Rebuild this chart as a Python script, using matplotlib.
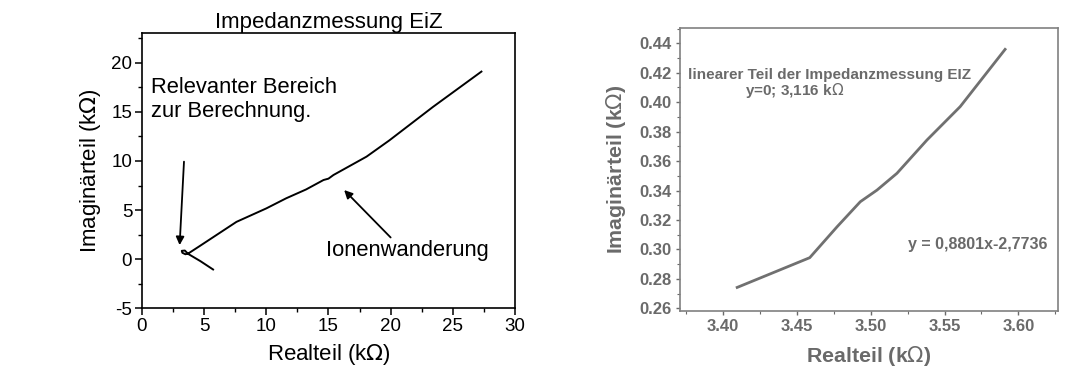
import matplotlib
matplotlib.use("Agg")
import matplotlib.pyplot as plt
from matplotlib.ticker import MultipleLocator

plt.rcParams['font.family'] = ['Liberation Sans', 'DejaVu Sans']
plt.rcParams['axes.unicode_minus'] = False

# Full Nyquist curve of the impedance measurement (kOhm)
real_full = [5.72, 4.70, 3.70, 3.45, 3.20, 3.25, 3.50, 3.75, 4.60, 5.98, 7.60,
             10.0, 11.6, 13.2, 14.6, 15.0, 15.4, 18.06, 19.9, 23.4, 27.3]
imag_full = [-1.05, -0.20, 0.55, 0.88, 0.85, 0.65, 0.50, 0.60, 1.30, 2.45, 3.80,
             5.17, 6.20, 7.10, 8.06, 8.20, 8.57, 10.44, 12.1, 15.5, 19.1]

# Linear section used for the extrapolation
real_lin = [3.4097, 3.4588, 3.4773, 3.4930, 3.5043, 3.5178, 3.5381, 3.5606, 3.5910]
imag_lin = [0.2742, 0.2944, 0.3154, 0.3324, 0.3403, 0.3517, 0.3743, 0.3970, 0.4359]

x_ticks_lin = [3.40, 3.45, 3.50, 3.55, 3.60]
y_ticks_lin = [0.26, 0.28, 0.30, 0.32, 0.34, 0.36, 0.38, 0.40, 0.42, 0.44]

fig = plt.figure(figsize=(10.92, 3.74), dpi=100)

# ---------- left: full measurement ----------
ax1 = fig.add_axes([0.130, 0.1757, 0.3416, 0.7353])
ax1.plot(real_full, imag_full, color='black', lw=1.4)
ax1.set_xlim(0, 30)
ax1.set_ylim(-5, 23)
ax1.xaxis.set_major_locator(MultipleLocator(5))
ax1.xaxis.set_minor_locator(MultipleLocator(2.5))
ax1.yaxis.set_major_locator(MultipleLocator(5))
ax1.yaxis.set_minor_locator(MultipleLocator(2.5))
ax1.tick_params(which='major', direction='out', length=5, width=1.1, labelsize=13.5, pad=2)
ax1.tick_params(which='minor', direction='out', length=3, width=1.0)
for s in ax1.spines.values():
    s.set_linewidth(1.2)
ax1.set_title('Impedanzmessung EiZ', fontsize=16, pad=3)
ax1.set_xlabel('Realteil (k$\\Omega$)', fontsize=16, labelpad=5)
ax1.set_ylabel('Imaginärteil (k$\\Omega$)', fontsize=16, labelpad=6)

ax1.text(0.75, 14.5, 'Relevanter Bereich\nzur Berechnung.', fontsize=15.8,
         ha='left', va='baseline', linespacing=1.2)
ax1.annotate('', xy=(3.03, 1.43), xytext=(3.38, 9.93),
             arrowprops=dict(arrowstyle='-|>', color='black', lw=1.3,
                             mutation_scale=12, shrinkA=0, shrinkB=0))
ax1.text(14.8, 0.92, 'Ionenwanderung', fontsize=15.8, ha='left', va='center')
ax1.annotate('', xy=(16.26, 7.04), xytext=(20.0, 2.21),
             arrowprops=dict(arrowstyle='-|>', color='black', lw=1.3,
                             mutation_scale=12, shrinkA=0, shrinkB=0))

# ---------- right: linear section ----------
gray = '#6a6a6a'
ax2 = fig.add_axes([0.6227, 0.1693, 0.3459, 0.7550])
ax2.plot(real_lin, imag_lin, color='#707070', lw=2.0)
ax2.set_xlim(3.371, 3.6266)
ax2.set_ylim(0.2584, 0.4502)
ax2.set_xticks(x_ticks_lin)
ax2.set_xticklabels([f'{v:.2f}' for v in x_ticks_lin])
ax2.set_yticks(y_ticks_lin)
ax2.set_yticklabels([f'{v:.2f}' for v in y_ticks_lin])
ax2.xaxis.set_minor_locator(MultipleLocator(0.025))
ax2.yaxis.set_minor_locator(MultipleLocator(0.01))
ax2.tick_params(which='major', direction='out', length=3, width=1.0,
                labelsize=12, pad=3, colors=gray, labelcolor=gray)
ax2.tick_params(which='minor', direction='out', length=2, width=0.8, colors=gray)
for lbl in ax2.get_xticklabels() + ax2.get_yticklabels():
    lbl.set_fontweight('bold')
for s in ax2.spines.values():
    s.set_linewidth(1.2)
    s.set_color('#808080')
ax2.set_xlabel('Realteil (k$\\Omega$)', fontsize=15.4, color=gray,
               fontweight='bold', labelpad=7)
ax2.set_ylabel('Imaginärteil (k$\\Omega$)', fontsize=15.4, color=gray,
               fontweight='bold', labelpad=8)

ax2.text(0.021, 0.835, 'linearer Teil der Impedanzmessung EIZ', transform=ax2.transAxes,
         fontsize=11, color=gray, fontweight='bold', ha='left', va='center')
ax2.text(0.172, 0.781, 'y=0; 3,116 k$\\Omega$', transform=ax2.transAxes,
         fontsize=11, color=gray, fontweight='bold', ha='left', va='center')
ax2.text(0.604, 0.233, 'y = 0,8801x-2,7736', transform=ax2.transAxes,
         fontsize=11.5, color=gray, fontweight='bold', ha='left', va='center')

fig.savefig('out.png', dpi=100, facecolor='white')
